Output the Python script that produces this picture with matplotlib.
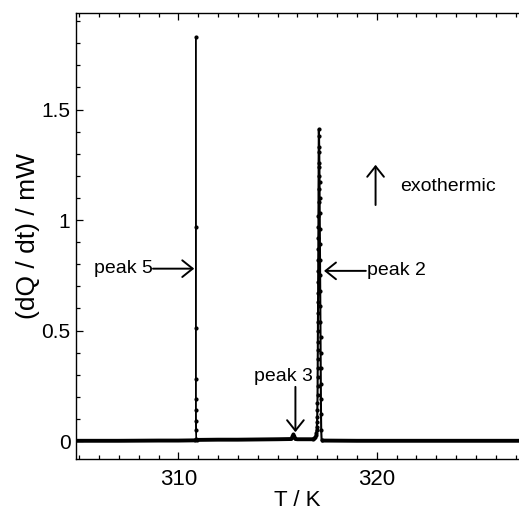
import matplotlib
matplotlib.use("Agg")
import matplotlib.pyplot as plt
from matplotlib.ticker import MultipleLocator

plt.rcParams['font.family'] = ['Liberation Sans', 'DejaVu Sans']

# ---- data ----
base1_T = [304.84, 306.0, 307.0, 308.0, 309.0, 310.0, 310.86]
base1_Q = [0.001, 0.001, 0.001, 0.0015, 0.002, 0.002, 0.003]

base2_T = [310.92, 312.0, 313.0, 314.0, 315.0, 315.7, 315.75, 315.8, 315.85, 315.9, 316.0, 316.5, 316.8]
base2_Q = [0.005, 0.006, 0.006, 0.007, 0.008, 0.009, 0.02, 0.03, 0.02, 0.009, 0.008, 0.008, 0.008]

base3_T = [317.22, 319.0, 322.0, 325.0, 327.2]
base3_Q = [0.002, 0.001, 0.001, 0.001, 0.001]

peak5_T = [310.86, 310.88, 310.885, 310.89, 310.89, 310.89, 310.89, 310.89, 310.895, 310.9, 310.92]
peak5_Q = [0.003, 0.01, 1.83, 0.97, 0.51, 0.28, 0.19, 0.14, 0.09, 0.05, 0.005]

peak2_rise_T = [316.80, 316.86, 316.90, 316.93, 316.95, 316.97, 316.98, 316.99, 317.00, 317.005,
                317.01, 317.015, 317.02, 317.02, 317.025, 317.025, 317.03, 317.03, 317.035, 317.035,
                317.04, 317.04, 317.045, 317.045, 317.05, 317.05, 317.055, 317.055, 317.06, 317.06,
                317.065, 317.065, 317.07, 317.07, 317.075, 317.08]
peak2_rise_Q = [0.008, 0.012, 0.018, 0.026, 0.036, 0.05, 0.065, 0.085, 0.11, 0.14,
                0.17, 0.21, 0.25, 0.29, 0.33, 0.37, 0.41, 0.45, 0.50, 0.54,
                0.58, 0.63, 0.67, 0.72, 0.77, 0.82, 0.87, 0.92, 0.97, 1.02,
                1.08, 1.14, 1.20, 1.26, 1.33, 1.41]

peak2_fall_T = [317.09, 317.10, 317.11, 317.115, 317.12, 317.125, 317.13, 317.135, 317.14, 317.145,
                317.15, 317.155, 317.16, 317.165, 317.17, 317.175, 317.18, 317.185, 317.19, 317.20, 317.22]
peak2_fall_Q = [1.38, 1.31, 1.24, 1.17, 1.10, 1.03, 0.96, 0.89, 0.82, 0.75,
                0.68, 0.61, 0.54, 0.47, 0.40, 0.33, 0.26, 0.19, 0.12, 0.05, 0.005]

x_ticks = [310, 320]
y_ticks = [0, 0.5, 1, 1.5]
y_ticklabels = ['0', '0.5', '1', '1.5']

# ---- figure ----
fig = plt.figure(figsize=(5.19, 5.12), dpi=100)
ax = fig.add_axes([76 / 519, 53 / 512, 1 - 76 / 519, 446 / 512])

for T, Q in [(base1_T, base1_Q), (base2_T, base2_Q), (base3_T, base3_Q)]:
    ax.plot(T, Q, color='black', lw=2.8, solid_capstyle='butt')

ax.plot(peak5_T, peak5_Q, color='black', lw=0.7, marker='o', ms=2.0)
ax.plot(peak2_rise_T + peak2_fall_T, peak2_rise_Q + peak2_fall_Q,
        color='black', lw=1.5, marker='o', ms=2.0)

ax.set_xlim(304.84, 327.17)
ax.set_ylim(-0.0814, 1.937)

ax.set_xticks(x_ticks)
ax.set_yticks(y_ticks)
ax.set_yticklabels(y_ticklabels)
ax.xaxis.set_minor_locator(MultipleLocator(1))
ax.yaxis.set_minor_locator(MultipleLocator(0.1))
ax.tick_params(which='both', direction='in', top=True, right=False, width=0.9)
ax.tick_params(which='major', length=5)
ax.tick_params(which='minor', length=3)
ax.tick_params(axis='x', which='major', labelsize=16, pad=7)
ax.tick_params(axis='y', which='major', labelsize=15, pad=4)
ax.spines['right'].set_visible(False)
for s in ['left', 'bottom', 'top']:
    ax.spines[s].set_linewidth(1.0)

ax.set_xlabel('T / K', fontsize=16, labelpad=0.5)
ax.set_ylabel('(dQ / dt) / mW', fontsize=19, labelpad=1)

arrow = dict(arrowstyle='->,head_length=0.75,head_width=0.6', lw=1.4, color='black', shrinkA=0, shrinkB=0)
ax.annotate('', xy=(310.8, 0.78), xytext=(308.72, 0.78), arrowprops=arrow)
ax.text(308.72, 0.78, 'peak 5', fontsize=14, ha='right', va='center')

ax.annotate('', xy=(317.34, 0.77), xytext=(319.45, 0.77), arrowprops=arrow)
ax.text(319.5, 0.77, 'peak 2', fontsize=14, ha='left', va='center')

ax.annotate('', xy=(315.9, 0.04), xytext=(315.9, 0.245), arrowprops=arrow)
ax.text(316.8, 0.29, 'peak 3', fontsize=14, ha='right', va='center')

ax.annotate('', xy=(319.94, 1.25), xytext=(319.94, 1.068), arrowprops=arrow)
ax.text(321.2, 1.15, 'exothermic', fontsize=14, ha='left', va='center')

fig.savefig('out.png', dpi=100)
